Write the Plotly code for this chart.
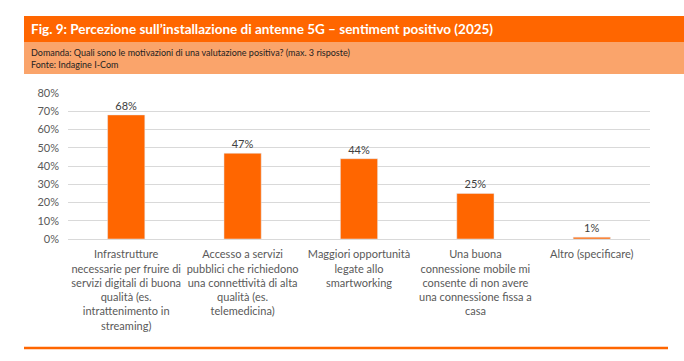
import plotly.graph_objects as go

categories = [
    "Infrastrutture<br>necessarie per fruire di<br>servizi digitali di buona<br>qualità (es.<br>intrattenimento in<br>streaming)",
    "Accesso a servizi<br>pubblici che richiedono<br>una connettività di alta<br>qualità (es.<br>telemedicina)",
    "Maggiori opportunità<br>legate allo<br>smartworking",
    "Una buona<br>connessione mobile mi<br>consente di non avere<br>una connessione fissa a<br>casa",
    "Altro (specificare)",
]
values = [68, 47, 44, 25, 1]
tick_vals = [0, 10, 20, 30, 40, 50, 60, 70, 80]
tick_text = ["0%", "10%", "20%", "30%", "40%", "50%", "60%", "70%", "80%"]
title = "Fig. 9: Percezione sull’installazione di antenne 5G – sentiment positivo (2025)"
subtitle1 = "Domanda: Quali sono le motivazioni di una valutazione positiva? (max. 3 risposte)"
subtitle2 = "Fonte: Indagine I-Com"

W, H = 684, 361
L, R, T, B = 68, 650, 93, 239  # plot area in pixels


def px(x):
    return (x - L) / (R - L)


def py(y):
    return (B - y) / (B - T)


fig = go.Figure(
    go.Bar(
        x=categories,
        y=values,
        marker_color="#FF6600",
        width=0.32,
        text=[f"{v}%" for v in values],
        textposition="outside",
        textfont=dict(size=11, color="#404040", family="Lato"),
        cliponaxis=False,
    )
)

shapes = [
    dict(type="rect", xref="paper", yref="paper", x0=px(24), x1=px(684), y0=py(42), y1=py(16),
         fillcolor="#FF6600", line_width=0, layer="below"),
    dict(type="rect", xref="paper", yref="paper", x0=px(24), x1=px(684), y0=py(74), y1=py(42),
         fillcolor="#FAA46B", line_width=0, layer="below"),
    dict(type="line", xref="paper", yref="paper", x0=px(24), x1=px(668), y0=py(348), y1=py(348),
         line=dict(color="#FF6600", width=2.5)),
]

annotations = [
    dict(text=f"<b>{title}</b>", xref="paper", yref="paper", x=px(29), y=py(29), xanchor="left",
         yanchor="middle", showarrow=False, font=dict(size=13.5, color="white", family="Lato")),
    dict(text=subtitle1, xref="paper", yref="paper", x=px(29), y=py(52), xanchor="left",
         yanchor="middle", showarrow=False, font=dict(size=9, color="#222", family="Lato")),
    dict(text=subtitle2, xref="paper", yref="paper", x=px(29), y=py(65), xanchor="left",
         yanchor="middle", showarrow=False, font=dict(size=9, color="#222", family="Lato")),
]

fig.update_layout(
    width=W, height=H,
    margin=dict(l=L, r=W - R, t=T, b=H - B, pad=0),
    paper_bgcolor="white", plot_bgcolor="white",
    showlegend=False,
    shapes=shapes,
    annotations=annotations,
    font=dict(family="Lato", color="#595959"),
    bargap=0.68,
)
fig.update_yaxes(range=[0, 80], tickvals=tick_vals, ticktext=tick_text, showgrid=True,
                 gridcolor="#D9D9D9", gridwidth=1, zeroline=False, showline=False,
                 tickfont=dict(size=11, color="#595959"), ticks="", ticklabelstandoff=8)
fig.update_xaxes(showline=True, linecolor="#D9D9D9", linewidth=1, tickfont=dict(size=11, color="#595959"),
                 ticks="", tickangle=0, ticklabelstandoff=5, automargin=False)

fig.write_html("out.html", config={"displayModeBar": False},
               post_script="document.body.style.margin='0';")
